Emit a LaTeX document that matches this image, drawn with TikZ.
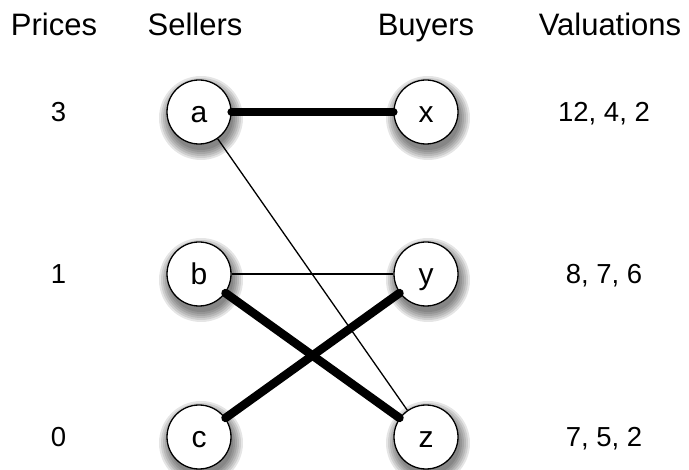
\documentclass[tikz,border=0pt]{standalone}
\usepackage{fontspec}
\setmainfont{Liberation Sans}
\usetikzlibrary{calc}
\tikzset{
  vert/.style={circle, draw, line width=1.3pt, fill=white, minimum size=64pt, inner sep=0pt,
    font=\fontsize{30}{30}\selectfont, text height=21pt, text depth=0pt},
  head/.style={anchor=base, font=\fontsize{31}{31}\selectfont, inner sep=0pt},
  num/.style={anchor=base, font=\fontsize{27.5}{27.5}\selectfont, inner sep=0pt},
  heavy/.style={line width=8.5pt, line cap=round},
  light/.style={line width=1.3pt},
}
\begin{document}
\begin{tikzpicture}[x=1pt, y=-1pt]
\useasboundingbox (0,0) rectangle (689,470);
% positions
\coordinate (pa) at (199,112);
\coordinate (pb) at (199,274);
\coordinate (pc) at (199,437);
\coordinate (px) at (426,112);
\coordinate (py) at (426,274);
\coordinate (pz) at (426,437);
% blurred shadows
\foreach \p in {pa,pb,pc,px,py,pz}{
  \foreach \r in {42,40,38,36,34,32}{
    \fill[black, opacity=0.1] ($(\p)+(2,6)$) circle (\r pt);
  }
}
% headers
\node[head] (hp) at (54,36) {Prices};
\node[head] (hs) at (195,36) {Sellers};
\node[head] (hb) at (426,36) {Buyers};
\node[head] (hv) at (610,36) {Valuations};
% prices
\node[num] (p3) at (58.5,122) {3};
\node[num] (p1) at (58.5,284) {1};
\node[num] (p0) at (58.5,447) {0};
% valuations
\node[num] (v1) at (604,122) {12, 4, 2};
\node[num] (v2) at (604,284) {8, 7, 6};
\node[num] (v3) at (604,447) {7, 5, 2};
% vertices
\node[vert] (a) at (pa) {a};
\node[vert] (b) at (pb) {b};
\node[vert] (c) at (pc) {c};
\node[vert] (x) at (px) {x};
\node[vert] (y) at (py) {y};
\node[vert] (z) at (pz) {z};
% edges
\draw[light] (a) -- (z);
\draw[light] (b) -- (y);
\draw[heavy] (a) -- (x);
\draw[heavy] (b) -- (z);
\draw[heavy] (c) -- (y);
\end{tikzpicture}
\end{document}
